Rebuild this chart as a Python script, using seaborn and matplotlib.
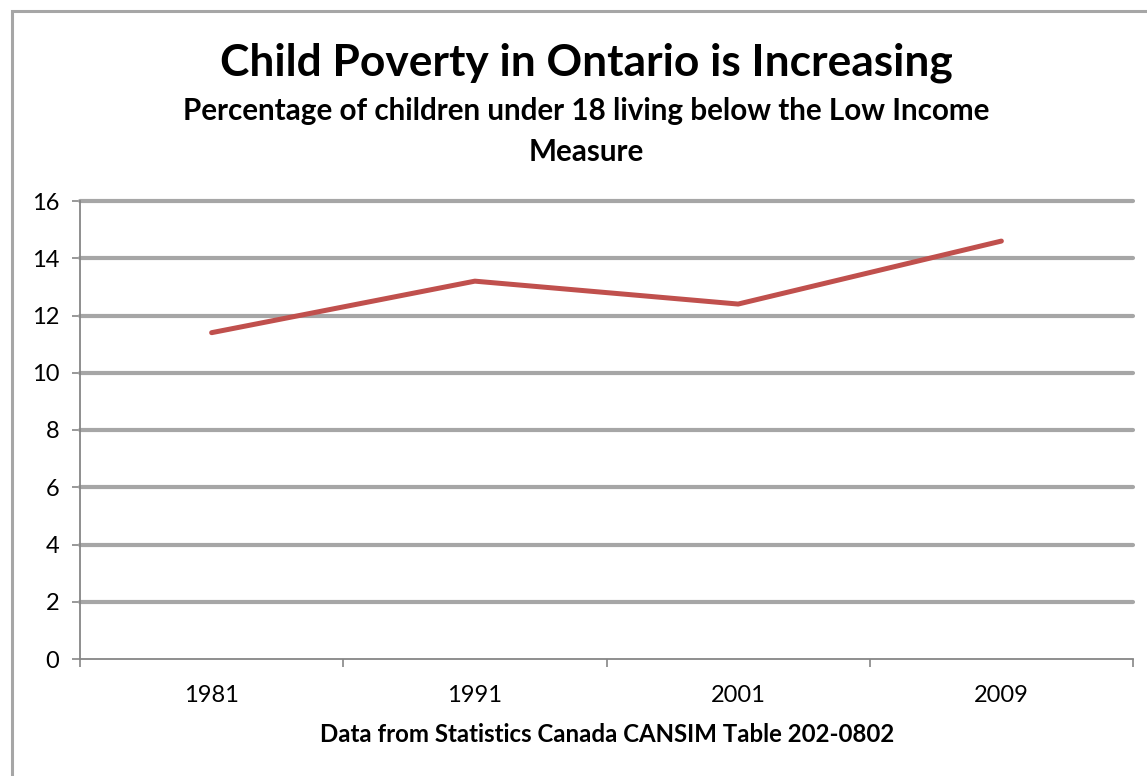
import matplotlib
matplotlib.use("Agg")
import matplotlib.pyplot as plt
from matplotlib.patches import Rectangle
import seaborn as sns
import pandas as pd

# Ontario child poverty rate (% of children under 18 below the LIM)
years = ["1981", "1991", "2001", "2009"]
rates = [11.4, 13.2, 12.4, 14.6]
y_ticks = [0, 2, 4, 6, 8, 10, 12, 14, 16]

title = "Child Poverty in Ontario is Increasing"
subtitle_1 = "Percentage of children under 18 living below the Low Income"
subtitle_2 = "Measure"
source = "Data from Statistics Canada CANSIM Table 202-0802"

sns.set_style("white")
plt.rcParams["font.family"] = ["Lato", "DejaVu Sans"]
plt.rcParams["text.color"] = "black"
plt.rcParams["xtick.color"] = "black"
plt.rcParams["ytick.color"] = "black"

W, H = 1147, 776
fig = plt.figure(figsize=(W / 100, H / 100), dpi=100)
fig.patch.set_facecolor("white")

# plot area in pixel coordinates: left 80, right 1133, top 201, bottom 659
ax = fig.add_axes([80 / W, 1 - 659 / H, (1133 - 80) / W, (659 - 201) / H])

df = pd.DataFrame({"pos": range(len(years)), "rate": rates})
sns.lineplot(data=df, x="pos", y="rate", ax=ax, color="#C0504D",
             linewidth=3.6, solid_capstyle="round", solid_joinstyle="round",
             zorder=3)

ax.set_xlim(-0.5, len(years) - 0.5)
ax.set_ylim(0, 16)
ax.set_yticks(y_ticks)
ax.set_yticklabels([str(t) for t in y_ticks])
ax.set_xticks(range(len(years)))
ax.set_xticklabels(years)
ax.set_xlabel("")
ax.set_ylabel("")

# horizontal gridlines
for t in y_ticks[1:]:
    ax.axhline(t, color="#A6A6A6", linewidth=3.0, zorder=1, clip_on=False)

for s in ["top", "right"]:
    ax.spines[s].set_visible(False)
for s in ["left", "bottom"]:
    ax.spines[s].set_color("#868686")
    ax.spines[s].set_linewidth(1.3)

# ticks: y major ticks outward, x ticks at category boundaries
ax.tick_params(axis="y", which="major", direction="out", length=6,
               width=1.2, color="#868686", labelsize=17, pad=9,
               left=True, labelcolor="black")
ax.tick_params(axis="x", which="major", length=0, labelsize=17, pad=19,
               bottom=False, labelcolor="black")
ax.set_xticks([i - 0.5 for i in range(len(years) + 1)], minor=True)
ax.tick_params(axis="x", which="minor", direction="out", length=6,
               width=1.2, color="#868686", bottom=True)

# titles and source note
t1 = fig.text(586 / W, 1 - 63 / H, title, ha="center", va="center",
              fontsize=29, fontweight="bold")
t2 = fig.text(586 / W, 1 - 111 / H, subtitle_1, ha="center", va="center",
              fontsize=17.5, fontweight="bold")
t2b = fig.text(586 / W, 1 - 152 / H, subtitle_2, ha="center", va="center",
               fontsize=17.5, fontweight="bold")
t3 = fig.text(607 / W, 1 - 735 / H, source, ha="center", va="center",
              fontsize=14, fontweight="bold")

# fit text widths to the layout
fig.canvas.draw()
renderer = fig.canvas.get_renderer()
for txt, target in [(t1, 731), (t2, 808), (t3, 577)]:
    w = txt.get_window_extent(renderer).width
    txt.set_fontsize(txt.get_fontsize() * target / w)
t2b.set_fontsize(t2.get_fontsize())

# chart frame
fig.patches.append(Rectangle((11.5 / W, -0.05), 1.2, 1 - 11.5 / H + 0.05,
                             transform=fig.transFigure, fill=False,
                             edgecolor="#A6A6A6", linewidth=2.2))

fig.savefig("out.png", dpi=100, facecolor="white")
